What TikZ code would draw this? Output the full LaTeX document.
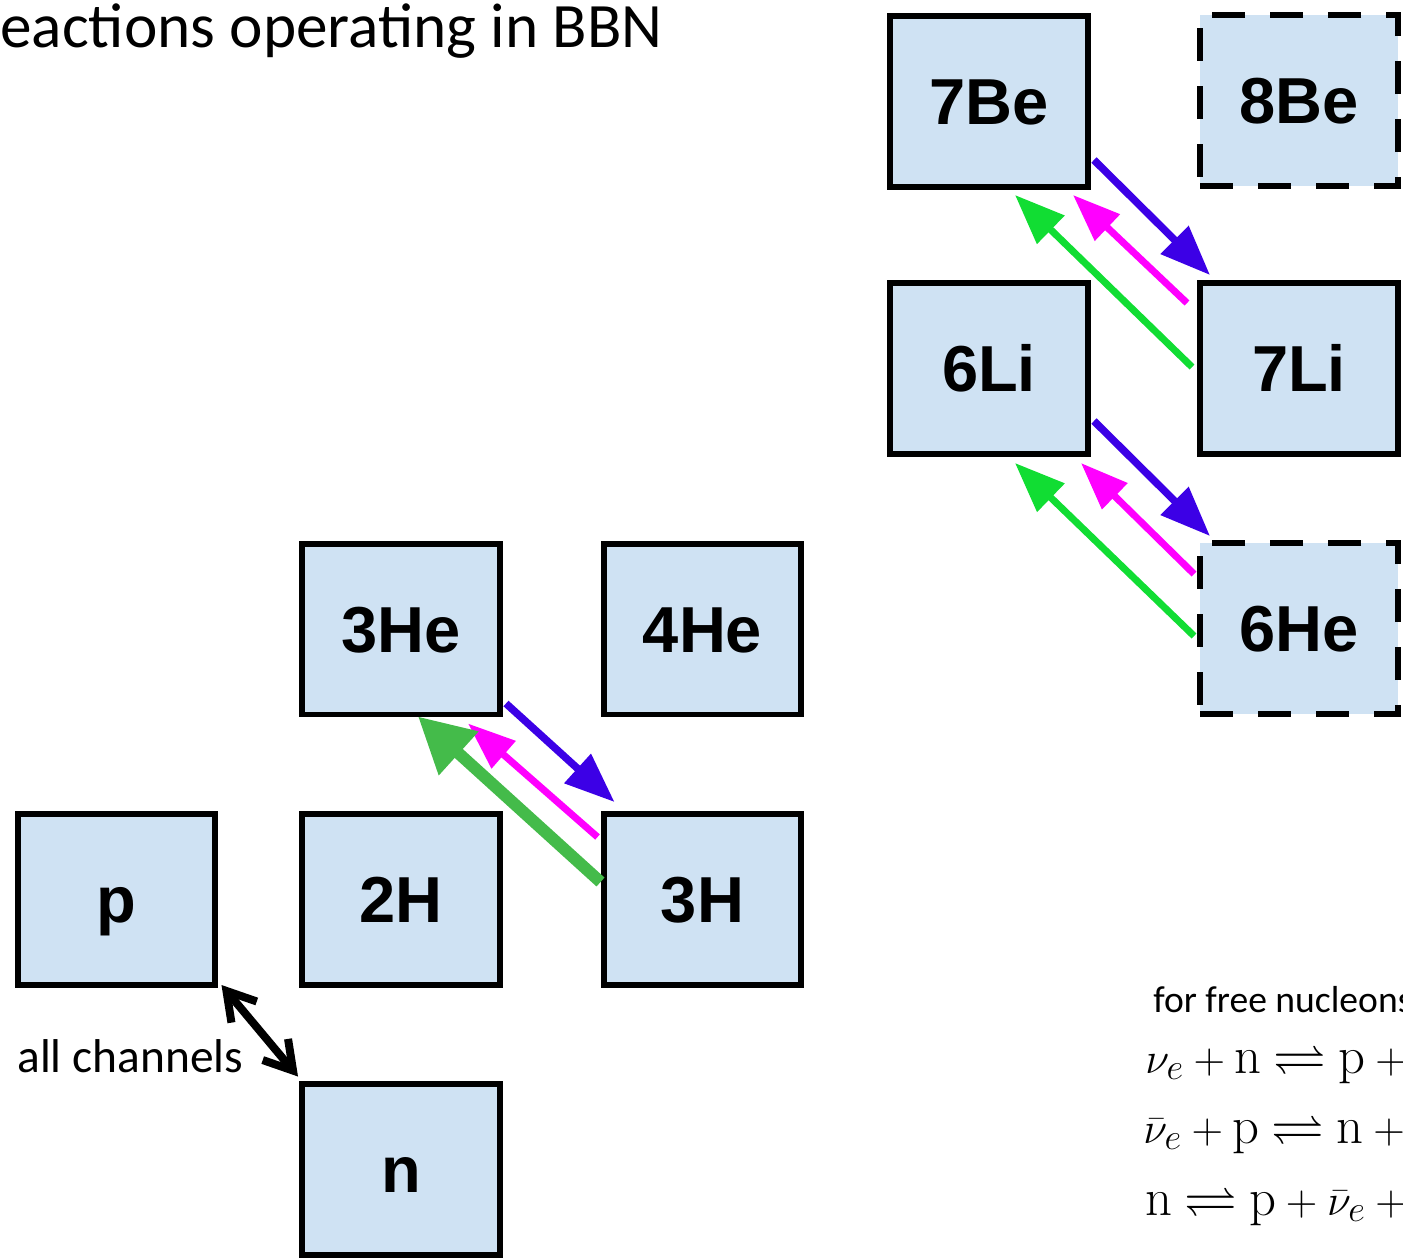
\documentclass[tikz,border=0pt]{standalone}
\usepackage{amssymb}
\usepackage{fontspec}
\newfontfamily\boxfont{Liberation Sans}
\newfontfamily\calfont{Carlito}
\usetikzlibrary{arrows.meta}
\definecolor{boxfill}{HTML}{CFE2F3}
\definecolor{arrblue}{HTML}{3C00E6}
\definecolor{arrmag}{HTML}{FF00FF}
\definecolor{arrgreenA}{HTML}{44BB4A}
\definecolor{arrgreenB}{HTML}{11DD33}
\begin{document}
\begin{tikzpicture}[x=0.02cm,y=-0.02cm,
  nuc/.style={draw=black, fill=boxfill, line width=0.12cm, minimum width=3.96cm,
    minimum height=3.42cm, inner sep=0pt, text height=26.5pt, text depth=0pt,
    font=\boxfont\bfseries\fontsize{37}{44}\selectfont},
  dbox/.style={nuc, dash pattern=on 0.66cm off 0.5cm},
  blu/.style={draw=arrblue, line width=0.15cm, -{Triangle[length=1.0cm,width=0.76cm]}},
  mag/.style={draw=arrmag, line width=0.14cm, -{Triangle[length=0.95cm,width=0.7cm]}},
  grnA/.style={draw=arrgreenA, line width=0.24cm, -{Triangle[length=1.1cm,width=1.12cm]}},
  grnB/.style={draw=arrgreenB, line width=0.14cm, -{Triangle[length=1.0cm,width=0.76cm]}},
  bidir/.style={draw=black, line width=0.16cm,
    {Straight Barb[length=0.55cm,width=0.66cm]}-{Straight Barb[length=0.55cm,width=0.66cm]}},
  calt/.style={font=\calfont\fontsize{36}{43}\selectfont, inner sep=0pt},
  cals/.style={font=\calfont\fontsize{27}{32}\selectfont, inner sep=0pt},
  calf/.style={font=\calfont\fontsize{21.4}{26}\selectfont, inner sep=0pt},
  eqn/.style={font=\fontsize{30}{36}\selectfont, inner sep=0pt}]
\useasboundingbox (0,0) rectangle (1403,1259);
\clip (0,0) rectangle (1403,1259);

% title
\node[calt, anchor=base west] (title) at (0,47) {eactions operating in BBN};

% boxes
\node[nuc]  (Be7) at (989,101.5) {7Be};
\node[dbox] (Be8) at (1299,100.5) {8Be};
\node[nuc]  (Li6) at (989,368.5) {6Li};
\node[nuc]  (Li7) at (1299,368.5) {7Li};
\node[dbox] (He6) at (1299,628.5) {6He};
\node[nuc]  (He3) at (401,629) {3He};
\node[nuc]  (He4) at (702.5,629) {4He};
\node[nuc]  (p)   at (116.5,899.5) {p};
\node[nuc]  (H2)  at (401,899.5) {2H};
\node[nuc]  (H3)  at (702.5,899.5) {3H};
\node[nuc]  (n)   at (401,1169) {n};

% 3He <-> 3H
\draw[blu]  ([xshift=0.06cm,yshift=0.28cm]He3.south east) -- ([xshift=0.28cm,yshift=0.18cm]H3.north west);
\draw[mag]  ([xshift=-0.06cm,yshift=-0.52cm]H3.north west) -- ([xshift=-0.7cm,yshift=-0.12cm]He3.south east);
\draw[grnA] ([xshift=0cm,yshift=-1.42cm]H3.north west) -- ([xshift=-1.7cm,yshift=0.02cm]He3.south east);

% 7Be <-> 7Li
\draw[blu]  ([xshift=0.06cm,yshift=0.6cm]Be7.south east) -- ([xshift=0.26cm,yshift=0.1cm]Li7.north west);
\draw[mag]  ([xshift=-0.2cm,yshift=-0.46cm]Li7.north west) -- ([xshift=-0.36cm,yshift=-0.1cm]Be7.south east);
\draw[grnB] ([xshift=-0.1cm,yshift=-1.74cm]Li7.north west) -- ([xshift=-1.52cm,yshift=-0.1cm]Be7.south east);

% 6Li <-> 6He
\draw[blu]  ([xshift=0.06cm,yshift=0.72cm]Li6.south east) -- ([xshift=0.26cm,yshift=0.08cm]He6.north west);
\draw[mag]  ([xshift=-0.06cm,yshift=-0.68cm]He6.north west) -- ([xshift=-0.2cm,yshift=-0.12cm]Li6.south east);
\draw[grnB] ([xshift=-0.06cm,yshift=-1.92cm]He6.north west) -- ([xshift=-1.52cm,yshift=-0.12cm]Li6.south east);

% p <-> n
\draw[bidir] ([xshift=0.06cm,yshift=0.06cm]p.south east) -- ([xshift=-0.02cm,yshift=0.08cm]n.north west);
\node[cals, anchor=base west] (allch) at (17,1072) {all channels};

% free nucleons
\node[calf, anchor=base west] (free) at (1153,1012) {for free nucleons};
\node[eqn, anchor=base west] (eq1) at (1145,1073) {$\nu_e + \mathrm{n} \rightleftharpoons \mathrm{p} + e^-$};
\node[eqn, anchor=base west] (eq2) at (1143,1143) {$\bar\nu_e + \mathrm{p} \rightleftharpoons \mathrm{n} + e^+$};
\node[eqn, anchor=base west] (eq3) at (1145,1215) {$\mathrm{n} \rightleftharpoons \mathrm{p} + \bar\nu_e + e^-$};
\end{tikzpicture}
\end{document}
